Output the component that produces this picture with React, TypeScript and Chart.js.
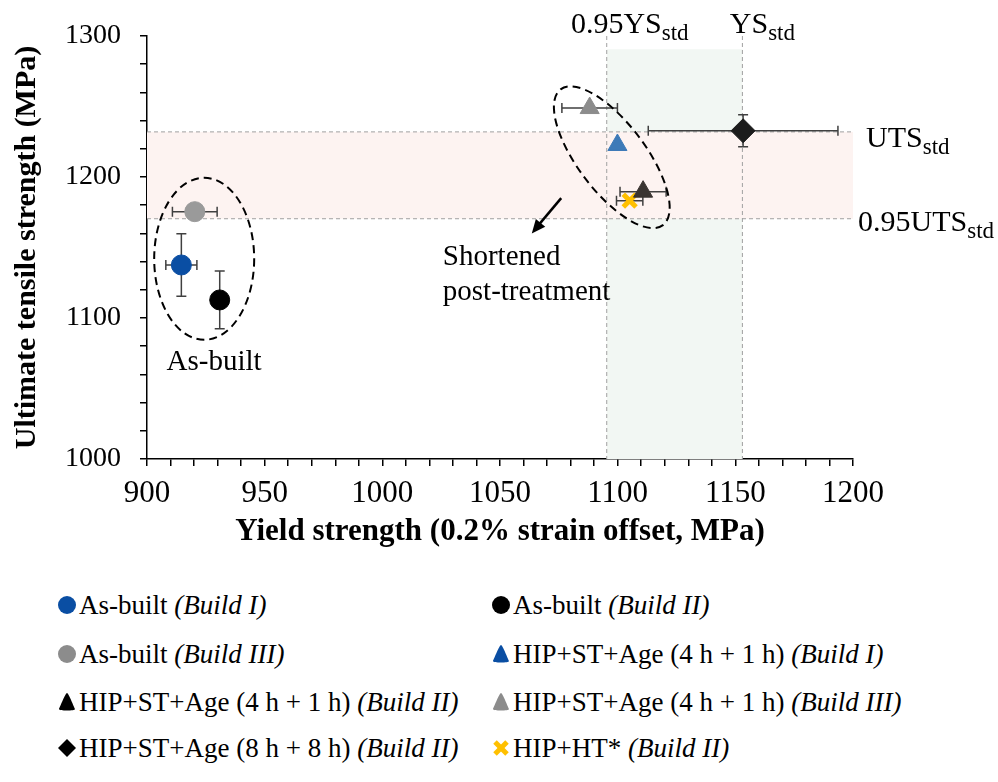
import React, { useEffect, useRef } from "react";
import { Chart, registerables } from "chart.js";

Chart.register(...registerables);

// ---------- data ----------
const seriesNames = [
  "As-built",
  "As-built",
  "As-built",
  "HIP+ST+Age (4 h + 1 h)",
  "HIP+ST+Age (4 h + 1 h)",
  "HIP+ST+Age (4 h + 1 h)",
  "HIP+ST+Age (8 h + 8 h)",
  "HIP+HT*",
];
const seriesBuilds = [
  "(Build I)",
  "(Build II)",
  "(Build III)",
  "(Build I)",
  "(Build II)",
  "(Build III)",
  "(Build II)",
  "(Build II)",
];
const yieldStrength = [914.6, 930.9, 920.3, 1099.9, 1110.8, 1088.1, 1153.3, 1105.1];
const tensileStrength = [1137.6, 1112.8, 1175.4, 1222.7, 1189.6, 1248.9, 1232.8, 1183.2];
const yieldErr = [6.6, 0, 9.5, 0, 9.8, 11.8, 40.3, 5.6];
const tensileErr = [22.2, 20.5, 0, 0, 0, 0, 11.4, 0];

const YS_STD = 1153;
const UTS_STD = 1232;
const STD_FACTOR = 0.95;
const GREEN_TOP = 1290.6;

const xTickValues = [900, 950, 1000, 1050, 1100, 1150, 1200];
const yTickValues = [1000, 1100, 1200, 1300];

// ---------- styles ----------
const markerStyles = ["circle", "circle", "circle", "triangle", "triangle", "triangle", "rectRot", "crossRot"];
const markerColors = ["#0a4ea3", "#000000", "#9a9a9a", "#3d7ab8", "#3a3431", "#8c8c8c", "#1c1c1c", "#FFC000"];
const legendColors = ["#0a4ea3", "#000000", "#8c8c8c", "#0a4ea3", "#000000", "#8c8c8c", "#000000", "#FFC000"];
const markerRadius = [10, 10, 10, 11, 11, 11, 12, 9];

const SERIF = "'Liberation Serif', 'Times New Roman', serif";

const annotationPlugin = {
  id: "annots",
  beforeDatasetsDraw(chart: any) {
    const { ctx, scales } = chart;
    const xs = scales.x;
    const ys = scales.y;
    const l = xs.getPixelForValue(900);
    const r = xs.getPixelForValue(1200);
    const t = ys.getPixelForValue(1300);
    const b = ys.getPixelForValue(1000);
    ctx.save();
    const yU = ys.getPixelForValue(UTS_STD);
    const yU95 = ys.getPixelForValue(UTS_STD * STD_FACTOR);
    const xY = xs.getPixelForValue(YS_STD);
    const xY95 = xs.getPixelForValue(YS_STD * STD_FACTOR);
    const gTop = ys.getPixelForValue(GREEN_TOP);
    // green band
    ctx.fillStyle = "#f2f7f3";
    ctx.fillRect(xY95, gTop, xY - xY95, b - gTop);
    // pink band
    ctx.fillStyle = "#fdf3f1";
    ctx.fillRect(l, yU, r - l, yU95 - yU);
    // dashed lines
    ctx.strokeStyle = "#a0a0a0";
    ctx.lineWidth = 1;
    ctx.setLineDash([4, 3]);
    ctx.beginPath();
    ctx.moveTo(l, yU);
    ctx.lineTo(r, yU);
    ctx.moveTo(l, yU95);
    ctx.lineTo(r, yU95);
    ctx.moveTo(xY, t);
    ctx.lineTo(xY, b);
    ctx.moveTo(xY95, t);
    ctx.lineTo(xY95, b);
    ctx.stroke();
    ctx.setLineDash([]);

    // error bars
    ctx.strokeStyle = "#404040";
    ctx.lineWidth = 1.5;
    const cap = 5;
    for (let i = 0; i < yieldStrength.length; i++) {
      const px = xs.getPixelForValue(yieldStrength[i]);
      const py = ys.getPixelForValue(tensileStrength[i]);
      ctx.beginPath();
      if (yieldErr[i] > 0) {
        const x1 = xs.getPixelForValue(yieldStrength[i] - yieldErr[i]);
        const x2 = xs.getPixelForValue(yieldStrength[i] + yieldErr[i]);
        ctx.moveTo(x1, py);
        ctx.lineTo(x2, py);
        ctx.moveTo(x1, py - cap);
        ctx.lineTo(x1, py + cap);
        ctx.moveTo(x2, py - cap);
        ctx.lineTo(x2, py + cap);
      }
      if (tensileErr[i] > 0) {
        const y1 = ys.getPixelForValue(tensileStrength[i] + tensileErr[i]);
        const y2 = ys.getPixelForValue(tensileStrength[i] - tensileErr[i]);
        ctx.moveTo(px, y1);
        ctx.lineTo(px, y2);
        ctx.moveTo(px - cap, y1);
        ctx.lineTo(px + cap, y1);
        ctx.moveTo(px - cap, y2);
        ctx.lineTo(px + cap, y2);
      }
      ctx.stroke();
    }
    ctx.restore();
  },
  afterDatasetsDraw(chart: any) {
    const { ctx, scales } = chart;
    const xs = scales.x;
    const ys = scales.y;
    ctx.save();
    // dashed ellipses
    ctx.strokeStyle = "#000";
    ctx.lineWidth = 2;
    ctx.setLineDash([8, 5]);
    ctx.beginPath();
    ctx.ellipse(xs.getPixelForValue(924.3), ys.getPixelForValue(1142), 50, 81, 0, 0, Math.PI * 2);
    ctx.stroke();
    ctx.beginPath();
    ctx.ellipse(xs.getPixelForValue(1097.5), ys.getPixelForValue(1214), 85, 34, (53 * Math.PI) / 180, 0, Math.PI * 2);
    ctx.stroke();
    ctx.setLineDash([]);

    // arrow
    const ax1 = xs.getPixelForValue(1076), ay1 = ys.getPixelForValue(1185);
    const ax2 = xs.getPixelForValue(1063.5), ay2 = ys.getPixelForValue(1160);
    ctx.lineWidth = 2.5;
    ctx.beginPath();
    ctx.moveTo(ax1, ay1);
    ctx.lineTo(ax2 + 4, ay2 - 5);
    ctx.stroke();
    const ang = Math.atan2(ay2 - ay1, ax2 - ax1);
    ctx.fillStyle = "#000";
    ctx.beginPath();
    ctx.moveTo(ax2, ay2);
    ctx.lineTo(ax2 - 15 * Math.cos(ang - 0.42), ay2 - 15 * Math.sin(ang - 0.42));
    ctx.lineTo(ax2 - 15 * Math.cos(ang + 0.42), ay2 - 15 * Math.sin(ang + 0.42));
    ctx.closePath();
    ctx.fill();

    // texts
    ctx.fillStyle = "#000";
    ctx.font = `29px ${SERIF}`;
    ctx.textBaseline = "alphabetic";
    ctx.textAlign = "left";
    ctx.fillText("Shortened", xs.getPixelForValue(1025.7), ys.getPixelForValue(1137.6));
    ctx.fillText("post-treatment", xs.getPixelForValue(1025.7), ys.getPixelForValue(1112.8));
    ctx.textAlign = "center";
    ctx.fillText("As-built", xs.getPixelForValue(928.5), ys.getPixelForValue(1063));

    const drawSub = (main: string, sub: string, x: number, y: number, align: string) => {
      ctx.font = `30px ${SERIF}`;
      const w1 = ctx.measureText(main).width;
      ctx.font = `23px ${SERIF}`;
      const w2 = ctx.measureText(sub).width;
      let start = x;
      if (align === "center") start = x - (w1 + w2) / 2;
      ctx.textAlign = "left";
      ctx.font = `30px ${SERIF}`;
      ctx.fillText(main, start, y);
      ctx.font = `23px ${SERIF}`;
      ctx.fillText(sub, start + w1, y + 7);
    };
    const xY = xs.getPixelForValue(YS_STD);
    const xY95 = xs.getPixelForValue(YS_STD * STD_FACTOR);
    const top = ys.getPixelForValue(1300);
    drawSub("0.95YS", "std", xY95 + 23, top - 3, "center");
    drawSub("YS", "std", xY + 20, top - 3, "center");
    const r = xs.getPixelForValue(1200);
    drawSub("UTS", "std", r + 13, ys.getPixelForValue(UTS_STD) + 15, "left");
    drawSub("0.95UTS", "std", r + 5, ys.getPixelForValue(UTS_STD * STD_FACTOR) + 12, "left");
    ctx.restore();
  },
};

function LegendMarker({ idx }: { idx: number }) {
  const c = legendColors[idx];
  const s = markerStyles[idx];
  let shape: any = null;
  if (s === "circle") shape = <circle cx="10" cy="10" r="9" fill={c} />;
  else if (s === "triangle")
    shape = <path d="M10 1 C11.5 1 17 15 18 17 C18.5 19 1.5 19 2 17 C3 15 8.5 1 10 1 Z" fill={c} />;
  else if (s === "rectRot") shape = <polygon points="10,1 19,10 10,19 1,10" fill={c} />;
  else
    shape = (
      <g stroke={c} strokeWidth="5">
        <line x1="4" y1="4" x2="16" y2="16" />
        <line x1="16" y1="4" x2="4" y2="16" />
      </g>
    );
  return (
    <svg width="20" height="20" style={{ display: "inline-block", verticalAlign: "middle", marginRight: 2 }}>
      {shape}
    </svg>
  );
}

export default function App() {
  const canvasRef = useRef<HTMLCanvasElement>(null);

  useEffect(() => {
    if (!canvasRef.current) return;
    const datasets = yieldStrength.map((x, i) => ({
      label: `${seriesNames[i]} ${seriesBuilds[i]}`,
      data: [{ x, y: tensileStrength[i] }],
      pointStyle: markerStyles[i] as any,
      pointRadius: markerRadius[i],
      pointBackgroundColor: markerColors[i],
      pointBorderColor: markerColors[i],
      pointBorderWidth: markerStyles[i] === "crossRot" ? 5 : 1,
      showLine: false,
    }));
    const chart = new Chart(canvasRef.current, {
      type: "scatter",
      data: { datasets },
      plugins: [annotationPlugin],
      options: {
        responsive: false,
        animation: false,
        layout: { padding: { left: 0, right: 145, top: 36, bottom: 0 } },
        plugins: { legend: { display: false }, tooltip: { enabled: false } },
        scales: {
          x: {
            type: "linear",
            min: 900,
            max: 1200,
            afterFit: (s: any) => {
              s.height = 101;
            },
            afterBuildTicks: (s: any) => {
              const arr = [];
              for (let v = 900; v <= 1200; v += 10) arr.push({ value: v });
              s.ticks = arr;
            },
            ticks: {
              autoSkip: false,
              maxRotation: 0,
              padding: 9,
              color: "#000",
              font: { family: SERIF, size: 31 },
              callback: (v: any) => (xTickValues.includes(Number(v)) ? String(v) : ""),
            },
            grid: { drawOnChartArea: false, drawTicks: true, tickLength: 7, color: "#000", lineWidth: 1.5 },
            border: { color: "#000", width: 1.5 },
            title: {
              display: true,
              text: "Yield strength (0.2% strain offset, MPa)",
              color: "#000",
              font: { family: SERIF, size: 31, weight: "bold" },
              padding: { top: 0, bottom: 9 },
            },
          },
          y: {
            type: "linear",
            min: 1000,
            max: 1300,
            afterFit: (s: any) => {
              s.width = 147;
            },
            afterBuildTicks: (s: any) => {
              const arr = [];
              for (let v = 1000; v <= 1300; v += 20) arr.push({ value: v });
              s.ticks = arr;
            },
            ticks: {
              autoSkip: false,
              padding: 19,
              color: "#000",
              font: { family: SERIF, size: 28 },
              callback: (v: any) => (yTickValues.includes(Number(v)) ? String(v) : ""),
            },
            grid: { drawOnChartArea: false, drawTicks: true, tickLength: 7, color: "#000", lineWidth: 1.5 },
            border: { color: "#000", width: 1.5 },
            title: {
              display: true,
              text: "Ultimate tensile strength (MPa)",
              color: "#000",
              font: { family: SERIF, size: 30, weight: "bold" },
              padding: { top: 9, bottom: 0 },
            },
          },
        },
      },
    });
    return () => chart.destroy();
  }, []);

  const rowCenters = [602, 651, 699, 745];
  const colLeft = [57, 491];

  return (
    <div style={{ position: "absolute", left: 0, top: 0, width: 998, height: 782, background: "#fff", overflow: "hidden" }}>
      <canvas ref={canvasRef} width={998} height={560} style={{ position: "absolute", left: 0, top: 0 }} />
      {seriesNames.map((name, i) => (
        <div
          key={i}
          style={{
            position: "absolute",
            left: colLeft[i % 2],
            top: rowCenters[Math.floor(i / 2)] - 16,
            height: 32,
            lineHeight: "32px",
            fontFamily: SERIF,
            fontSize: 27,
            color: "#000",
            whiteSpace: "nowrap",
          }}
        >
          <LegendMarker idx={i} />
          <span style={{ verticalAlign: "middle" }}>
            {name} <i>{seriesBuilds[i]}</i>
          </span>
        </div>
      ))}
    </div>
  );
}
